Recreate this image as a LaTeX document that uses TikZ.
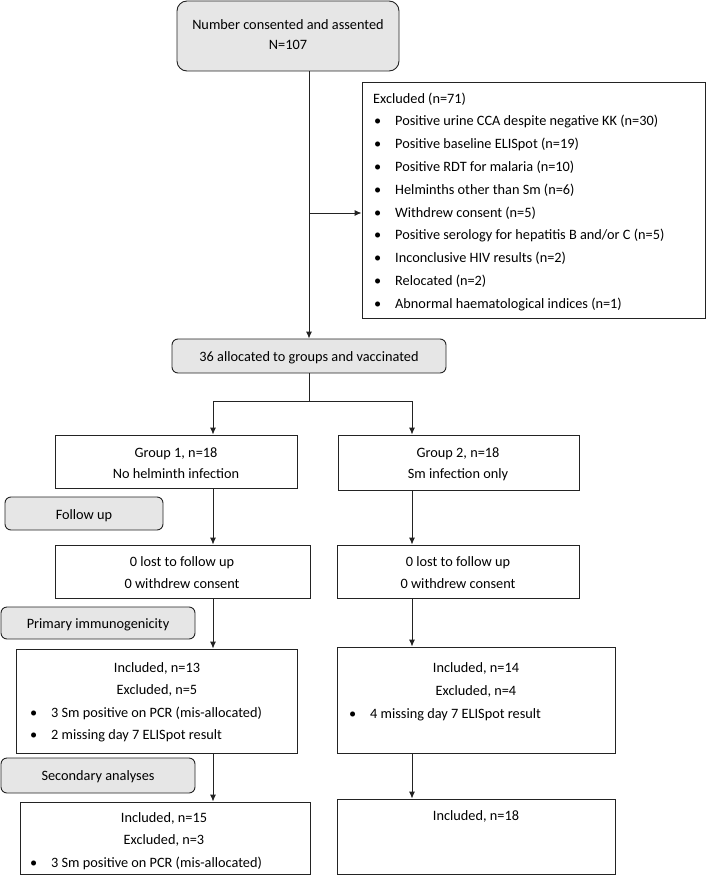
\documentclass[tikz,border=0pt]{standalone}
\usepackage{fontspec}
\setmainfont{Carlito}
\usetikzlibrary{arrows.meta,fit}
\definecolor{boxgray}{RGB}{230,230,230}
\definecolor{linecol}{RGB}{35,35,35}
\newcommand\bul[1]{\makebox[21pt][l]{\textbullet}#1}
\begin{document}
\begin{tikzpicture}[x=1pt,y=-1pt,
  font=\fontsize{14.3}{17}\selectfont,
  frame/.style={draw=linecol, line width=0.9pt, inner sep=0pt, fill=white},
  gbox/.style={frame, fill=boxgray, rounded corners=6pt},
  txt/.style={inner sep=0pt, anchor=base},
  lft/.style={inner sep=0pt, anchor=base west},
  arr/.style={draw=linecol, line width=0.9pt, -{Latex[length=7pt,width=6pt]}},
  ln/.style={draw=linecol, line width=0.9pt}]
\useasboundingbox (0,0) rectangle (706,875);

% boxes
\node[gbox, rounded corners=10pt, fit={(177,1) (399,71)}] (consent) {};
\node[frame, fit={(362,82) (705,318)}] (excl) {};
\node[gbox, fit={(172,339) (446,373)}] (alloc) {};
\node[frame, fit={(55,435) (297,488)}] (g1) {};
\node[frame, fit={(338,435) (579,490)}] (g2) {};
\node[gbox, fit={(5,497) (163,530)}] (follow) {};
\node[frame, fit={(55,545) (310,598)}] (lost1) {};
\node[frame, fit={(337,545) (579,598)}] (lost2) {};
\node[gbox, fit={(1,607) (195,639)}] (primary) {};
\node[frame, fit={(16,649) (297,753)}] (inc1) {};
\node[frame, fit={(337,647) (615,753)}] (inc2) {};
\node[gbox, fit={(1,758) (195,793)}] (second) {};
\node[frame, fit={(20,802) (310,874.5)}] (inc3) {};
\node[frame, fit={(337,799) (615,874.5)}] (inc4) {};

% texts
\node[txt] (consentA) at (288,30) {Number consented and assented};
\node[txt] (consentB) at (288,50) {N=107};

\node[lft] (exh) at (373,103) {Excluded (n=71)};
\foreach \t [count=\i] in {Positive urine CCA despite negative KK (n=30),
  Positive baseline ELISpot (n=19),
  Positive RDT for malaria (n=10),
  Helminths other than Sm (n=6),
  Withdrew consent (n=5),
  Positive serology for hepatitis B and/or C (n=5),
  Inconclusive HIV results (n=2),
  Relocated (n=2),
  Abnormal haematological indices (n=1)}
  \node[lft] (ex\i) at (374,{103+22.8*\i}) {\bul{\t}};

\node[txt] (allocT) at (309,361) {36 allocated to groups and vaccinated};

\node[txt] (g1a) at (176,457) {Group 1, n=18};
\node[txt] (g1b) at (176,478) {No helminth infection};
\node[txt] (g2a) at (458,457) {Group 2, n=18};
\node[txt] (g2b) at (458,478) {Sm infection only};

\node[txt] (followT) at (84,519) {Follow up};

\node[txt] (lost1a) at (182,566) {0 lost to follow up};
\node[txt] (lost1b) at (182,588) {0 withdrew consent};
\node[txt] (lost2a) at (458,566) {0 lost to follow up};
\node[txt] (lost2b) at (458,588) {0 withdrew consent};

\node[txt] (primaryT) at (98,628) {Primary immunogenicity};

\node[txt] (inc1a) at (157,672) {Included, n=13};
\node[txt] (inc1b) at (157,694) {Excluded, n=5};
\node[lft] (inc1c) at (30,717) {\bul{3 Sm positive on PCR (mis-allocated)}};
\node[lft] (inc1d) at (30,739) {\bul{2 missing day 7 ELISpot result}};

\node[txt] (inc2a) at (476,672) {Included, n=14};
\node[txt] (inc2b) at (476,695) {Excluded, n=4};
\node[lft] (inc2c) at (349,718) {\bul{4 missing day 7 ELISpot result}};

\node[txt] (secondT) at (98,780) {Secondary analyses};

\node[txt] (inc3a) at (164,822) {Included, n=15};
\node[txt] (inc3b) at (164,844) {Excluded, n=3};
\node[lft] (inc3c) at (30,867) {\bul{3 Sm positive on PCR (mis-allocated)}};

\node[txt] (inc4a) at (476,820) {Included, n=18};

% connectors
\coordinate (vx) at (309,0);
\coordinate (jx) at (309,213);
\coordinate (sp) at (309,401);
\coordinate (lx) at (213,0);
\coordinate (rx) at (412,0);
\draw[arr] (consent.south -| vx) -- (alloc.north -| vx);
\draw[arr] (jx) -- (jx -| excl.west);
\draw[ln] (alloc.south -| sp) -- (sp);
\draw[arr] (sp) -| (lx |- g1.north);
\draw[arr] (sp) -| (rx |- g2.north);
\draw[arr] (lx |- g1.south) -- (lx |- lost1.north);
\draw[arr] (lx |- lost1.south) -- (lx |- inc1.north);
\draw[arr] (lx |- inc1.south) -- (lx |- inc3.north);
\draw[arr] (rx |- g2.south) -- (rx |- lost2.north);
\draw[arr] (rx |- lost2.south) -- (rx |- inc2.north);
\draw[arr] (rx |- inc2.south) -- (rx |- inc4.north);
\end{tikzpicture}
\end{document}
